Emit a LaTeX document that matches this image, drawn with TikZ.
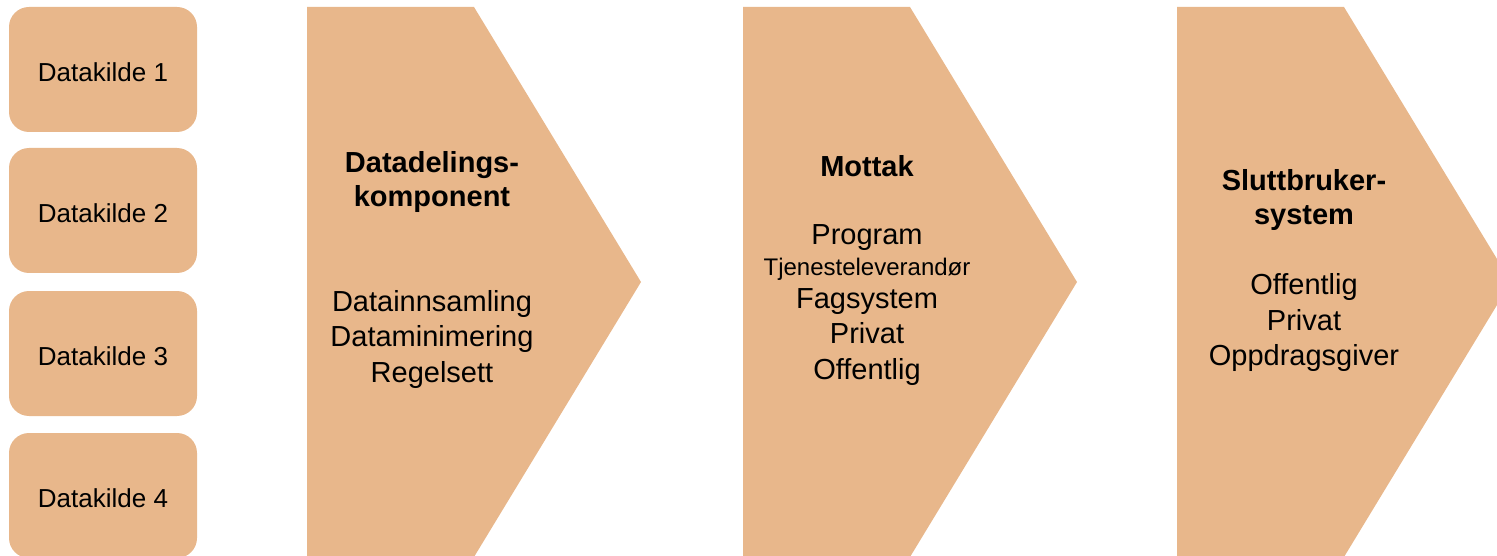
\documentclass[tikz,border=0pt]{standalone}
\usepackage{fontspec}
\setmainfont{Liberation Sans}
\definecolor{sand}{HTML}{E8B78B}
\tikzset{
  kilde/.style={fill=sand, draw=none, rounded corners=20pt, minimum width=188pt, minimum height=125pt, text height=24pt, font=\fontsize{26}{30}\selectfont},
  pil/.style={fill=sand, draw=none},
  tittel/.style={align=center, font=\fontsize{29}{34}\bfseries\selectfont},
  liste/.style={align=center, font=\fontsize{29}{35.5}\selectfont}
}
\begin{document}
\begin{tikzpicture}[x=1pt,y=-1pt]
          \useasboundingbox (0,0) rectangle (1497,556);
          \clip (0,0) rectangle (1497,556);

          % data sources
          \foreach \i/\y in {1/69.5, 2/210.5, 3/353.5, 4/495.5}
            \node[kilde] (kilde\i) at (103,\y) {Datakilde \i};

          % arrows
          \draw[pil] (307,7) -- (474,7) -- (641,282) -- (474,557) -- (307,557) -- cycle;
          \draw[pil] (743,7) -- (910,7) -- (1077,282) -- (910,557) -- (743,557) -- cycle;
          \draw[pil] (1177,7) -- (1344,7) -- (1511,282) -- (1344,557) -- (1177,557) -- cycle;

          \node[tittel] (deling) at (432,182.5) {Datadelings-\\komponent};
          \node[liste] (delingliste) at (432,339.5) {Datainnsamling\\Dataminimering\\Regelsett};

          \node[tittel] (mottak) at (867,166.5) {Mottak};
          \node[liste] (mottakliste) at (867,305) {Program\\[-4pt]{\fontsize{24}{28}\selectfont Tjenesteleverandør}\\[-3pt]Fagsystem\\Privat\\Offentlig};

          \node[tittel] (slutt) at (1304,200) {Sluttbruker-\\system};
          \node[liste] (sluttliste) at (1304,323) {Offentlig\\Privat\\Oppdragsgiver};
        \end{tikzpicture}
\end{document}
